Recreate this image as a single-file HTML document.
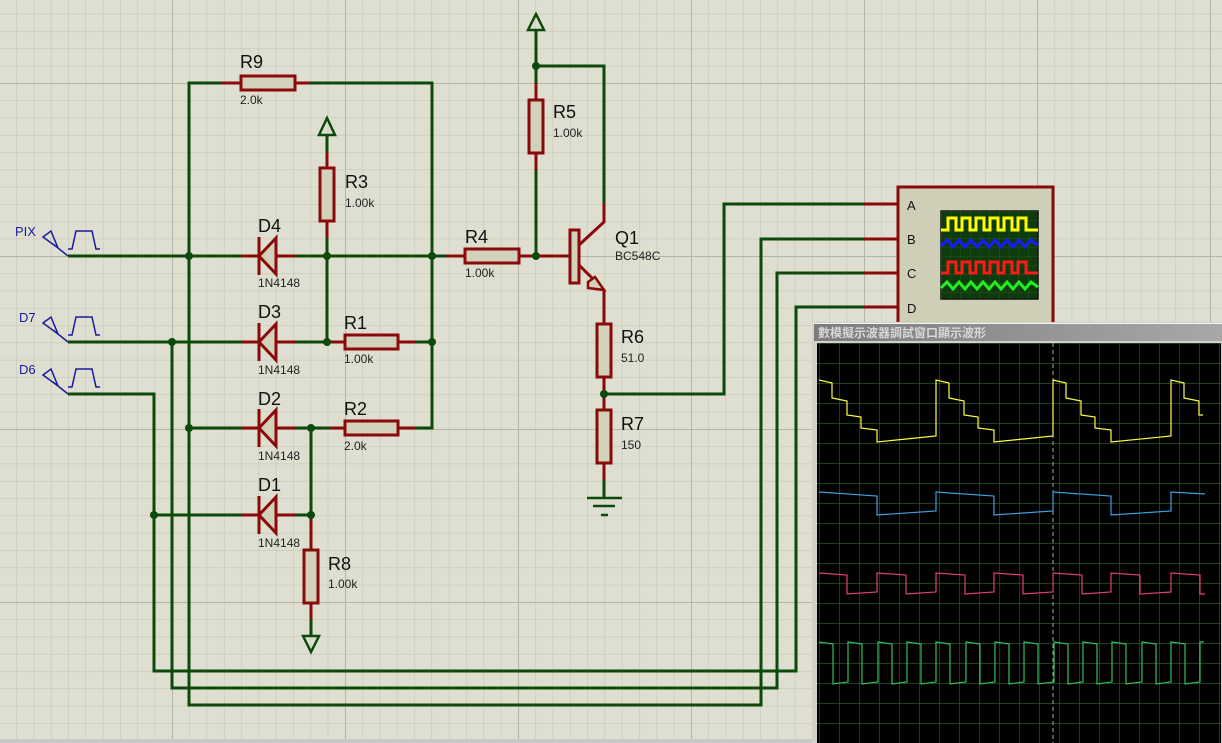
<!DOCTYPE html>
<html><head><meta charset="utf-8"><style>
html,body{margin:0;padding:0;background:#dfdfd1;}
svg{display:block;font-family:"Liberation Sans",sans-serif;}
</style></head><body>
<svg width="1222" height="743" viewBox="0 0 1222 743" xmlns="http://www.w3.org/2000/svg">
<defs>
<pattern id="mn" x="172" y="83" width="17.3" height="17.3" patternUnits="userSpaceOnUse"><path d="M0 0H17.3M0 0V17.3" stroke="#c6c6b6" stroke-width="1.2" fill="none"/></pattern>
<pattern id="mj" x="172" y="83" width="173" height="173" patternUnits="userSpaceOnUse"><path d="M0 0H173M0 0V173" stroke="#b5b5a5" stroke-width="2" fill="none"/></pattern>
<pattern id="sg" x="819" y="343" width="20" height="20" patternUnits="userSpaceOnUse"><path d="M0 0H20M0 0V20" stroke="#2c662c" stroke-width="1.2" fill="none"/></pattern>
<pattern id="ms" x="941" y="211" width="9.7" height="9" patternUnits="userSpaceOnUse"><path d="M0 0H9.7M0 0V9" stroke="#1a5a1a" stroke-width="1" fill="none"/></pattern>
<linearGradient id="tb" x1="0" x2="1"><stop offset="0" stop-color="#7c7c7c"/><stop offset="1" stop-color="#a8a8a8"/></linearGradient>
</defs>
<rect width="1222" height="743" fill="#dfdfd1"/>
<rect width="1222" height="743" fill="url(#mn)"/>
<rect width="1222" height="743" fill="url(#mj)"/>

<g stroke="#0b4a0b" stroke-width="3" fill="none">
<path d="M222 83H189V705H761V239H870"/>
<path d="M309 83H432V428H415"/>
<path d="M68 256H241M295 256H445"/>
<path d="M68 342H241M295 342H330M415 342H432"/>
<path d="M189 428H241M295 428H330"/>
<path d="M154 515H241M295 515H311V428"/>
<path d="M68 394H154V671H796V307H870"/>
<path d="M172 342V688H777V273H870"/>
<path d="M604 394H724V204H870"/>
<path d="M327 135V152M327 238V342"/>
<path d="M519 256H570M536 256V170M536 30V66H604V203M536 66V83"/>
<path d="M311 620V636"/>
<path d="M604 480V498"/>
</g>
<g stroke="#0b4a0b" stroke-width="2.5" fill="none">
<path d="M319 135L327 118L335 135Z"/>
<path d="M528 30L536 14L544 30Z"/>
<path d="M303 636L311 652L319 636Z"/>
<path d="M587 498H622M593 506H615M601 515H608"/>
</g>
<g stroke="#8a0a0a" stroke-width="3" fill="none">
<path d="M222 83H241M295 83H309"/>
<path d="M241 256H295M241 342H295M241 428H295M241 515H295"/>
<path d="M327 152V168M327 221V238"/>
<path d="M330 342H345M398 342H415M330 428H345M398 428H415"/>
<path d="M445 256H465M519 256H536"/>
<path d="M536 83V100M536 153V170"/>
<path d="M536 256H570M579 245L604 222V203M579 265L604 290V324M604 377V410M604 463V480"/>
<path d="M311 515V550M311 603V620"/>
<path d="M863 204H897M863 239H897M863 273H897M863 307H897"/>
</g>
<g stroke="#8a0a0a" stroke-width="3" fill="#d2d2bc">
<rect x="241" y="76" width="54" height="14"/>
<rect x="320" y="168" width="14" height="53"/>
<rect x="345" y="335" width="53" height="14"/>
<rect x="345" y="421" width="53" height="14"/>
<rect x="465" y="249" width="54" height="14"/>
<rect x="529" y="100" width="14" height="53"/>
<rect x="597" y="324" width="14" height="53"/>
<rect x="597" y="410" width="14" height="53"/>
<rect x="304" y="550" width="14" height="53"/>
<rect x="570" y="230" width="9" height="53"/>
</g>
<g stroke="#8a0a0a" stroke-width="3" fill="#d2d2bc">
<path d="M276 238V274L259 256Z"/><path d="M259 237V275" fill="none"/>
<path d="M276 324V360L259 342Z"/><path d="M259 323V361" fill="none"/>
<path d="M276 410V446L259 428Z"/><path d="M259 409V447" fill="none"/>
<path d="M276 497V533L259 515Z"/><path d="M259 496V534" fill="none"/>
<path d="M588 282L595 277L604 290L588 288Z" stroke-width="2.5"/>
</g>
<g fill="#0b4a0b">
<circle cx="189" cy="256" r="4"/><circle cx="327" cy="256" r="4"/><circle cx="432" cy="256" r="4"/>
<circle cx="172" cy="342" r="4"/><circle cx="327" cy="342" r="4"/><circle cx="432" cy="342" r="4"/>
<circle cx="189" cy="428" r="4"/><circle cx="311" cy="428" r="4"/>
<circle cx="154" cy="515" r="4"/><circle cx="311" cy="515" r="4"/>
<circle cx="536" cy="256" r="4"/><circle cx="536" cy="66" r="4"/><circle cx="604" cy="394" r="4"/>
</g>
<g stroke="#1a1aa0" stroke-width="1.5" fill="none">
<path d="M43 237L51 231L58 248Z M53 244L68 256 M68 249H72L76 231H92L96 249H100"/>
<path d="M43 323L51 317L58 334Z M53 330L68 342 M68 335H72L76 317H92L96 335H100"/>
<path d="M43 375L51 369L58 386Z M53 382L68 394 M68 387H72L76 369H92L96 387H100"/>
</g>
<g fill="#1a1aa0" font-size="13"><text x="15" y="236">PIX</text><text x="19" y="322">D7</text><text x="19" y="374">D6</text></g>
<g fill="#111" font-size="18">
<text x="240" y="68">R9</text><text x="345" y="188">R3</text><text x="258" y="232">D4</text>
<text x="258" y="318">D3</text><text x="344" y="329">R1</text><text x="258" y="405">D2</text>
<text x="344" y="415">R2</text><text x="258" y="491">D1</text><text x="328" y="570">R8</text>
<text x="465" y="243">R4</text><text x="553" y="118">R5</text><text x="615" y="244">Q1</text>
<text x="621" y="343">R6</text><text x="621" y="430">R7</text>
</g>
<g fill="#222" font-size="12">
<text x="240" y="104">2.0k</text><text x="345" y="207">1.00k</text><text x="258" y="287">1N4148</text>
<text x="258" y="374">1N4148</text><text x="344" y="363">1.00k</text><text x="258" y="460">1N4148</text>
<text x="344" y="450">2.0k</text><text x="258" y="547">1N4148</text><text x="328" y="588">1.00k</text>
<text x="465" y="277">1.00k</text><text x="553" y="137">1.00k</text><text x="615" y="260">BC548C</text>
<text x="621" y="362">51.0</text><text x="621" y="449">150</text>
</g>
<rect x="898" y="187" width="155" height="150" fill="#cfcfb7" stroke="#8a0a0a" stroke-width="3"/>
<g fill="#111" font-size="13"><text x="907" y="210">A</text><text x="907" y="244">B</text><text x="907" y="278">C</text><text x="907" y="313">D</text></g>
<rect x="941" y="211" width="97" height="88" fill="#0e3a0e" stroke="#111" stroke-width="1.5"/>
<rect x="941" y="211" width="97" height="88" fill="url(#ms)"/>
<g fill="none" stroke-width="3">
<path d="M941 230H948V218H956V230H962V218H970V230H976V218H984V230H990V218H998V230H1004V218H1012V230H1018V218H1026V230H1038" stroke="#ffff00"/>
<path d="M941 246L947 240L953 247L959 240L965 247L971 240L977 247L983 240L989 247L995 240L1001 247L1007 240L1013 247L1019 240L1025 247L1031 240L1038 245" stroke="#1a1aff"/>
<path d="M941 273H948V262H956V273H962V262H970V273H976V262H984V273H990V262H998V273H1004V262H1012V273H1018V262H1026V273H1038" stroke="#ff1a1a"/>
<path d="M941 288L947 282L953 289L959 282L965 289L971 282L977 289L983 282L989 289L995 282L1001 289L1007 282L1013 289L1019 282L1025 289L1031 282L1038 287" stroke="#22ee22"/>
</g>
<rect x="812" y="322" width="410" height="421" fill="#d4d0c8"/>
<rect x="813" y="323" width="409" height="1" fill="#f4f4f4"/>
<rect x="814" y="324" width="408" height="17" fill="url(#tb)"/>
<text x="818" y="337" font-size="12" font-weight="bold" fill="#d8d8d8" font-family="'Liberation Sans','Noto Sans CJK SC',sans-serif">數模擬示波器調試窗口顯示波形</text>
<rect x="817" y="343" width="404" height="400" fill="#000"/>
<rect x="817" y="343" width="404" height="400" fill="url(#sg)"/>
<line x1="1053" y1="343" x2="1053" y2="743" stroke="#aaa" stroke-width="1" stroke-dasharray="4,3"/>
<g fill="none" stroke-width="1.2">
<polyline stroke="#ffff40" points="819,380 832,383 832,398 847,401 847,415 861,417 861,428 877,430 877,442 936,436 936,380 949,383 949,398 964,401 964,415 978,417 978,428 994,430 994,442 1053,436 1053,380 1066,383 1066,398 1081,401 1081,415 1095,417 1095,428 1111,430 1111,442 1171,436 1171,380 1184,383 1184,398 1199,401 1199,415 1203,415"/>
<polyline stroke="#3aa0e0" points="819,492 877,496 877,515 936,511 936,492 994,496 994,515 1053,511 1053,492 1111,496 1111,515 1171,511 1171,492 1205,494"/>
<polyline stroke="#e0407a" points="819,573 847,575 847,594 877,592 877,573 906,575 906,594 936,592 936,573 965,575 965,594 994,592 994,573 1023,575 1023,594 1053,592 1053,573 1082,575 1082,594 1111,592 1111,573 1140,575 1140,594 1171,592 1171,573 1200,575 1200,594 1205,594"/>
<polyline stroke="#30c060" points="819,642 833,644 833,684 848,682 848,642 862,644 862,684 878,682 878,642 892,644 892,684 907,682 907,642 921,644 921,684 936,682 936,642 950,644 950,684 966,682 966,642 980,644 980,684 995,682 995,642 1009,644 1009,684 1024,682 1024,642 1038,644 1038,684 1054,682 1054,642 1068,644 1068,684 1083,682 1083,642 1097,644 1097,684 1112,682 1112,642 1126,644 1126,684 1142,682 1142,642 1156,644 1156,684 1171,682 1171,642 1185,644 1185,684 1200,682 1200,642 1204,642"/>
</g>
<rect x="0" y="739" width="812" height="4" fill="#c8c8c8"/>
</svg>
</body></html>
